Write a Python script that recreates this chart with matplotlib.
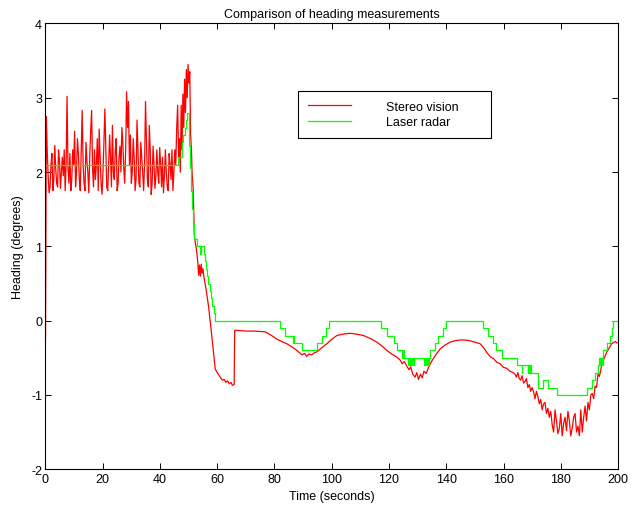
import numpy as np
import matplotlib
matplotlib.use("Agg")
import matplotlib.pyplot as plt

plt.rcParams['font.family'] = ['Liberation Sans', 'DejaVu Sans']
plt.rcParams['axes.unicode_minus'] = False

# ---------------- Stereo vision (red) ----------------
# start transient
stereo_head_t = [0.0, 0.3]
stereo_head_v = [-0.25, 2.75]

# noisy hold segment, 0.6 s .. 46.5 s, roughly every 0.33 s
stereo_noisy_span = (0.6, 46.5)
stereo_noisy_v = [
    2.30, 1.95, 1.72, 1.80, 2.10, 2.25, 1.75, 1.90, 2.36, 2.05,
    1.85, 1.80, 2.30, 2.15, 1.78, 2.00, 2.20, 1.95, 2.30, 1.75,
    2.10, 3.02, 2.05, 1.85, 2.25, 1.75, 1.90, 2.30, 2.10, 2.55,
    1.80, 2.00, 2.45, 2.25, 1.90, 1.75, 2.30, 2.83, 2.10, 1.85,
    1.75, 2.40, 2.15, 2.00, 1.72, 2.20, 2.55, 2.83, 2.05, 1.80,
    2.30, 1.90, 2.10, 2.45, 1.75, 2.58, 2.20, 1.85, 1.70, 2.00,
    2.40, 2.85, 2.30, 1.80, 1.75, 2.10, 2.50, 2.20, 1.80, 2.63,
    2.00, 1.90, 2.30, 2.45, 1.75, 1.85, 2.20, 2.35, 2.00, 2.60,
    2.40, 2.05, 1.85, 2.30, 3.08, 2.60, 2.95, 2.10, 2.50, 1.85,
    2.00, 2.45, 2.20, 1.75, 1.90, 2.70, 2.30, 1.85, 1.80, 2.40,
    2.20, 2.00, 1.75, 2.10, 2.95, 2.40, 1.90, 1.80, 2.63, 2.30,
    1.70, 1.85, 2.35, 2.10, 1.78, 1.95, 2.30, 2.00, 1.85, 2.33,
    2.10, 1.80, 2.20, 1.72, 1.95, 2.30, 2.00, 1.80, 1.75, 2.25,
    2.10, 1.90, 2.30, 1.75, 2.00, 2.30, 2.10, 2.60, 2.90, 2.20,
]

# peak, fall and slow drift segment
stereo_mid_t = [
    46.8, 47.1, 47.4, 47.7, 48.0, 48.3, 48.6, 48.9, 49.2, 49.5,
    49.8, 50.1, 50.4, 50.7, 51.0, 51.2, 51.6, 52.0, 52.3, 52.7,
    53.2, 53.5, 53.8, 54.1, 54.4, 54.7, 55.0, 55.3, 56.2, 57.0,
    57.8, 58.6, 59.3, 60.0, 60.5, 61.2, 61.8, 62.4, 63.0, 63.6,
    64.2, 64.8, 65.3, 65.9, 66.1, 67.0, 70.0, 73.0, 76.8, 79.0,
    80.9, 82.5, 84.3, 86.0, 87.5, 89.6, 90.5, 91.2, 92.0, 93.0,
    94.0, 94.8, 96.0, 98.3, 100.0, 101.8, 104.0, 106.4, 108.5, 111.1,
    113.5, 115.8, 117.5, 119.2, 121.0, 122.7, 123.9, 124.6, 125.4, 126.2,
    127.0, 127.6, 128.3, 129.1, 129.7, 130.3, 131.0, 131.6, 132.2, 133.0,
    133.8, 135.0, 136.5, 137.9, 139.5, 141.3, 143.0, 144.8, 146.5, 148.3,
    150.0, 151.8, 153.0, 154.2, 155.5, 156.5, 157.7, 158.8, 160.0, 161.1,
    162.2, 163.4,
]
stereo_mid_v = [
    2.45, 2.00, 2.90, 2.30, 3.05, 2.60, 3.25, 2.80, 3.38, 3.00,
    3.45, 3.20, 3.35, 2.50, 2.30, 2.00, 1.77, 1.15, 1.06, 0.97,
    0.79, 0.61, 0.75, 0.60, 0.76, 0.64, 0.70, 0.60, 0.40, 0.18,
    -0.10, -0.40, -0.65, -0.70, -0.73, -0.77, -0.80, -0.79, -0.83, -0.81,
    -0.85, -0.83, -0.87, -0.86, -0.13, -0.13, -0.14, -0.14, -0.15, -0.20,
    -0.25, -0.28, -0.31, -0.35, -0.39, -0.46, -0.44, -0.48, -0.45, -0.46,
    -0.43, -0.42, -0.38, -0.31, -0.25, -0.20, -0.18, -0.17, -0.18, -0.20,
    -0.24, -0.29, -0.34, -0.40, -0.45, -0.49, -0.53, -0.58, -0.55, -0.61,
    -0.66, -0.62, -0.72, -0.76, -0.70, -0.79, -0.72, -0.77, -0.68, -0.71,
    -0.63, -0.54, -0.45, -0.38, -0.33, -0.29, -0.27, -0.26, -0.26, -0.27,
    -0.29, -0.31, -0.36, -0.43, -0.49, -0.51, -0.56, -0.58, -0.63, -0.64,
    -0.68, -0.70,
]

# noisy dip, 164.0 s .. 190.5 s every 0.5 s
stereo_dip_span = (164.0, 190.5)
stereo_dip_v = [
    -0.72, -0.76, -0.70, -0.78, -0.80, -0.74, -0.84, -0.82, -0.78, -0.90, -0.86, -0.95,
    -0.90, -0.96, -1.05, -0.95, -1.02, -1.12, -1.06, -1.20, -1.12, -1.10, -1.25, -1.18,
    -1.30, -1.22, -1.40, -1.50, -1.20, -1.35, -1.52, -1.45, -1.25, -1.55, -1.38, -1.30,
    -1.48, -1.22, -1.35, -1.55, -1.45, -1.30, -1.25, -1.50, -1.42, -1.55, -1.20, -1.50,
    -1.30, -1.15, -1.35, -1.10, -1.20, -1.00,
]

# final recovery
stereo_end_t = [191.0, 191.5, 192.0, 192.5, 193.0, 193.5, 194.3, 195.0, 196.0, 197.0,
                197.8, 199.0, 199.7]
stereo_end_v = [-0.98, -1.05, -0.88, -0.90, -0.72, -0.75, -0.60, -0.52, -0.43, -0.36,
                -0.31, -0.28, -0.30]

# ---------------- Laser radar (green), step changes ----------------
laser_t = [
    0.0, 46.2, 47.7, 48.2, 48.7, 49.1, 49.5, 50.0, 50.3, 50.6,
    50.9, 51.2, 51.5, 51.8, 52.0, 52.9, 54.0, 54.4, 55.3, 55.6,
    56.0, 56.4, 56.8, 57.3, 57.8, 58.2, 58.7, 59.3,
    82.0, 83.5, 86.4, 86.7, 86.9, 89.6, 94.8, 96.6, 98.1, 98.9,
    117.3, 119.4, 121.6, 122.9, 124.5, 124.8, 125.1, 126.8, 127.1, 127.4,
    127.7, 128.0, 128.3, 128.6, 128.9, 132.3, 132.6, 132.9, 133.2, 133.5,
    133.8, 134.4, 136.0, 137.2, 138.9, 140.0,
    152.9, 154.7, 156.5, 157.4, 159.4, 164.8, 166.3, 166.6, 168.4, 168.7,
    169.0, 169.3, 169.6, 172.2, 173.7, 175.7, 178.8, 189.0, 190.8, 192.0,
    193.1, 193.4, 193.7, 194.0, 194.3, 194.6, 194.9, 196.0, 197.2, 197.8,
    198.4, 200.0,
]
laser_v = [
    2.1, 2.2, 2.4, 2.5, 2.6, 2.7, 2.8, 2.6, 2.35, 2.05,
    1.75, 1.5, 1.3, 1.2, 1.1, 1.0, 0.9, 1.0, 0.9, 0.8,
    0.7, 0.6, 0.5, 0.4, 0.3, 0.2, 0.1, 0.0,
    -0.1, -0.2, -0.3, -0.2, -0.3, -0.4, -0.3, -0.2, -0.1, 0.0,
    -0.1, -0.2, -0.3, -0.4, -0.5, -0.4, -0.5, -0.6, -0.5, -0.6,
    -0.5, -0.6, -0.5, -0.6, -0.5, -0.6, -0.5, -0.6, -0.5, -0.6,
    -0.5, -0.4, -0.3, -0.2, -0.1, 0.0,
    -0.1, -0.2, -0.3, -0.4, -0.5, -0.6, -0.7, -0.6, -0.7, -0.6,
    -0.7, -0.6, -0.7, -0.9, -0.8, -0.9, -1.0, -0.9, -0.8, -0.7,
    -0.6, -0.5, -0.6, -0.5, -0.6, -0.5, -0.4, -0.3, -0.2, -0.1,
    0.0, 0.0,
]

x_ticks = [0, 20, 40, 60, 80, 100, 120, 140, 160, 180, 200]
y_ticks = [-2, -1, 0, 1, 2, 3, 4]

# assemble stereo series
noisy_t = np.linspace(stereo_noisy_span[0], stereo_noisy_span[1], len(stereo_noisy_v))
dip_t = np.linspace(stereo_dip_span[0], stereo_dip_span[1], len(stereo_dip_v))
stereo_t = np.concatenate([stereo_head_t, noisy_t, stereo_mid_t, dip_t, stereo_end_t])
stereo_v = np.concatenate([stereo_head_v, stereo_noisy_v, stereo_mid_v, stereo_dip_v, stereo_end_v])

fig = plt.figure(figsize=(6.37, 5.06), dpi=100)
ax = fig.add_axes([0.0714, 0.0706, 0.8988, 0.881])

ax.plot(stereo_t, stereo_v, color='#ff0000', lw=0.9, label='Stereo vision')
ax.plot(laser_t, laser_v, color='#00ff00', lw=0.9, drawstyle='steps-post', label='Laser radar')

ax.set_xlim(0, 200)
ax.set_ylim(-2, 4)
ax.set_xticks(x_ticks)
ax.set_yticks(y_ticks)
ax.tick_params(direction='in', top=True, right=True, length=4, width=0.7,
               labelsize=9, pad=2.5, colors='black')
for s in ax.spines.values():
    s.set_linewidth(0.8)
    s.set_color('black')

ax.set_title('Comparison of heading measurements', fontsize=9, pad=5)
ax.set_xlabel('Time (seconds)', fontsize=9, labelpad=4)
ax.set_ylabel('Heading (degrees)', fontsize=9, labelpad=5)

leg = ax.legend(loc='upper left', bbox_to_anchor=(0.4416, 0.7521, 0.3366, 0.0972),
                mode='expand', borderaxespad=0, fontsize=9, frameon=True, fancybox=False,
                edgecolor='black', framealpha=1, handlelength=3.4, handletextpad=2.8,
                borderpad=0.8, labelspacing=0.3)
leg.get_frame().set_linewidth(0.8)

fig.savefig('out.png', dpi=100)
